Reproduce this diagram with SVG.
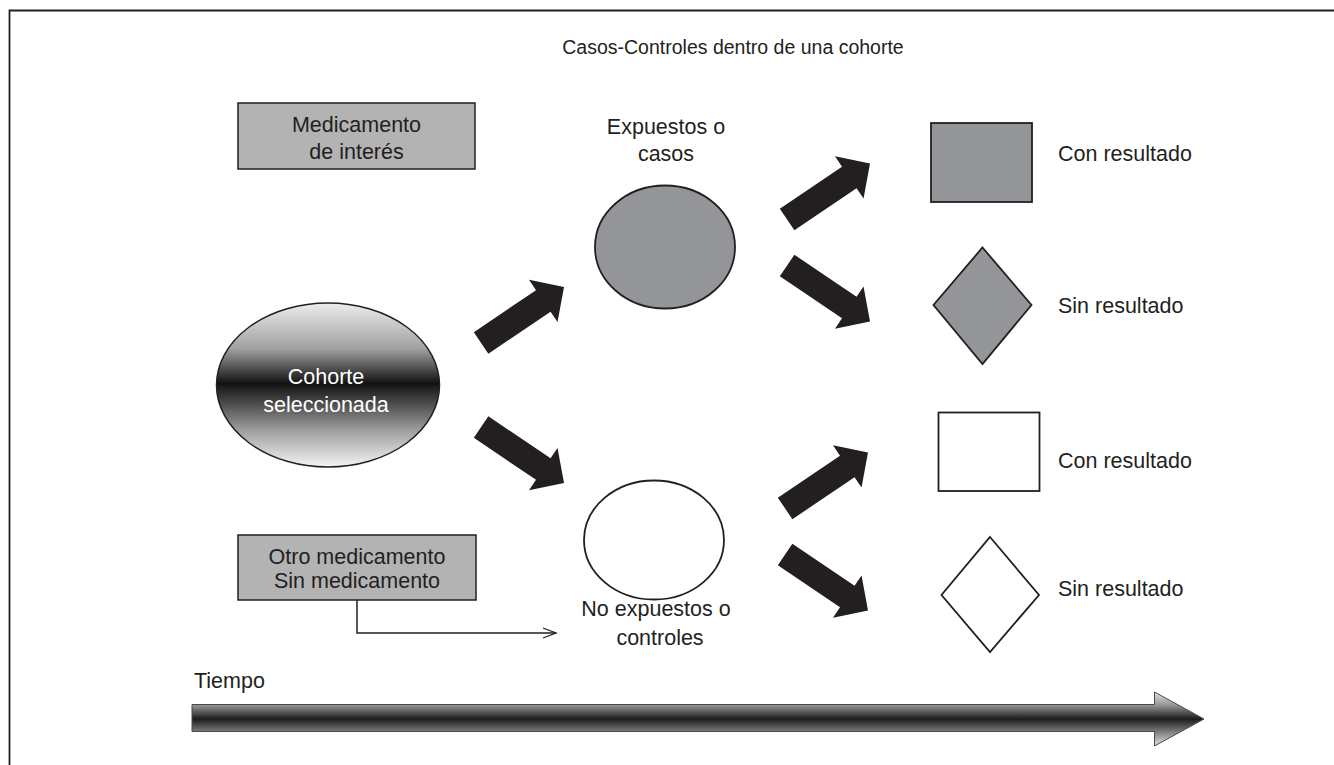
<svg xmlns="http://www.w3.org/2000/svg" width="1334" height="765" viewBox="0 0 1334 765">
<defs>
<style>
.t{font-family:"Liberation Sans",Arial,Helvetica,sans-serif;font-size:21.5px;fill:#231f20;}
.ttl{font-size:19.5px;}
.c{text-anchor:middle;}
.w{fill:#ffffff;}
.ln{stroke:#231f20;stroke-width:1.5;}
.box{fill:#b3b3b3;stroke:#231f20;stroke-width:1.5;}
.gray{fill:#939598;stroke:#231f20;stroke-width:1.8;}
.white{fill:#ffffff;stroke:#231f20;stroke-width:1.8;}
.blk{fill:#231f20;}
</style>
<linearGradient id="gCoh" x1="0" y1="0" x2="0" y2="1">
<stop offset="0" stop-color="#ececec"/>
<stop offset="0.28" stop-color="#a0a0a0"/>
<stop offset="0.49" stop-color="#121212"/>
<stop offset="0.58" stop-color="#3c3c3c"/>
<stop offset="0.78" stop-color="#a0a0a0"/>
<stop offset="1" stop-color="#f4f4f4"/>
</linearGradient>
<linearGradient id="gTime" x1="0" y1="0" x2="0" y2="1">
<stop offset="0" stop-color="#e2e2e2"/>
<stop offset="0.24" stop-color="#969696"/>
<stop offset="0.5" stop-color="#1c1c1c"/>
<stop offset="0.76" stop-color="#868686"/>
<stop offset="1" stop-color="#e2e2e2"/>
</linearGradient>
<polygon id="blockArrow" points="-100,-13 -25,-13 -25,-25.5 0,0 -25,25.5 -25,13 -100,13"/>
<marker id="chev" markerUnits="userSpaceOnUse" markerWidth="16" markerHeight="14" refX="13" refY="5" orient="auto" overflow="visible">
<path d="M0,0 L13,5 L0,10" fill="none" stroke="#231f20" stroke-width="1.3"/>
</marker>
</defs>
<rect x="0" y="0" width="1334" height="765" fill="#ffffff"/>
<path d="M9.5,765 L9.5,10.5 L1334,10.5" fill="none" stroke="#231f20" stroke-width="1.8"/>
<text class="t ttl c" x="733" y="54">Casos-Controles dentro de una cohorte</text>

<g id="medicamento-interes">
<rect class="box" x="238" y="103" width="237" height="66"/>
<text class="t c" x="356.5" y="132">Medicamento</text>
<text class="t c" x="356.5" y="159">de interés</text>
</g>

<g id="otro-medicamento">
<rect class="box" x="238" y="535" width="238" height="65"/>
<text class="t c" x="357" y="564">Otro medicamento</text>
<text class="t c" x="357" y="588">Sin medicamento</text>
</g>

<g id="cohorte">
<ellipse cx="328" cy="385" rx="111.5" ry="82" fill="url(#gCoh)" stroke="#231f20" stroke-width="1.5"/>
<text class="t c w" x="326" y="384">Cohorte</text>
<text class="t c w" x="326" y="412">seleccionada</text>
</g>

<g id="expuestos">
<ellipse class="gray" cx="665" cy="247" rx="70" ry="61.5"/>
<text class="t c" x="666" y="134">Expuestos o</text>
<text class="t c" x="666" y="161">casos</text>
</g>

<g id="no-expuestos">
<ellipse class="white" cx="654" cy="540" rx="70" ry="59.5"/>
<text class="t c" x="656" y="616">No expuestos o</text>
<text class="t c" x="660" y="645">controles</text>
</g>

<g id="expuestos-con-resultado">
<rect class="gray" x="931" y="123" width="101" height="79"/>
<text class="t" x="1058" y="161">Con resultado</text>
</g>

<g id="expuestos-sin-resultado">
<polygon class="gray" points="982.5,247.5 1031.5,305 982.5,364 933.5,305"/>
<text class="t" x="1058" y="313">Sin resultado</text>
</g>

<g id="no-expuestos-con-resultado">
<rect class="white" x="938.5" y="412.5" width="101" height="78.5"/>
<text class="t" x="1058" y="468">Con resultado</text>
</g>

<g id="no-expuestos-sin-resultado">
<polygon class="white" points="990,537 1039,595 990,652 941.5,595"/>
<text class="t" x="1058" y="596">Sin resultado</text>
</g>

<g id="tiempo">
<text class="t" x="194" y="688">Tiempo</text>
<polygon points="192,704.5 1154.5,704.5 1154.5,692 1204,719 1154.5,746 1154.5,731.5 192,731.5" fill="url(#gTime)" stroke="#4a4a4a" stroke-width="1"/>
</g>

<g id="connectors">
<use href="#blockArrow" class="blk" transform="translate(564,287) rotate(-34)"/>
<use href="#blockArrow" class="blk" transform="translate(564,483) rotate(34)"/>
<use href="#blockArrow" class="blk" transform="translate(870,163.5) rotate(-34)"/>
<use href="#blockArrow" class="blk" transform="translate(870,321.5) rotate(34)"/>
<use href="#blockArrow" class="blk" transform="translate(868,452.5) rotate(-34)"/>
<use href="#blockArrow" class="blk" transform="translate(868,610.5) rotate(34)"/>
<polyline points="357,600 357,633 556,633" fill="none" class="ln" stroke-width="1.3" marker-end="url(#chev)"/>
</g>
</svg>
